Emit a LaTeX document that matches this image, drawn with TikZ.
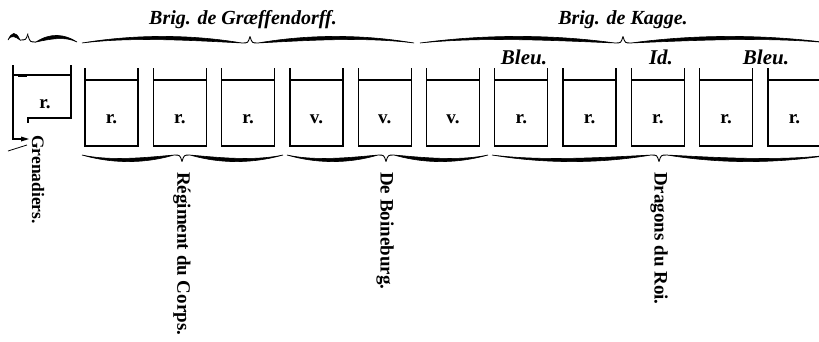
\documentclass[tikz,border=0pt]{standalone}
\usepackage{fontspec}
\setmainfont{Liberation Serif}
\usetikzlibrary{
  calc,
  positioning,
}
\newcommand{\halfbrace}[4]{%
  \pgfmathsetmacro{\hbk}{sign((#2)-(#1))}%
  \pgfmathsetmacro{\hbn}{(#2)-8*\hbk}%
  \pgfmathsetmacro{\hbd}{\hbn-(#1)}%
  \filldraw[line width=0.6pt] (#1,#3)
    .. controls ({(#1)+0.3*\hbd},{(#3)+8*(#4)}) and ({(#1)+0.65*\hbd},{(#3)+9.5*(#4)}) .. (\hbn,#3)
    .. controls ({(#1)+0.65*\hbd},{(#3)+3*(#4)}) and ({(#1)+0.3*\hbd},{(#3)+6*(#4)}) .. cycle;
  \draw[line width=0.9pt] (\hbn,#3) .. controls ({(#2)-2*\hbk},#3) .. (#2,{(#3)+6.5*(#4)});
}

\begin{document}
\begin{tikzpicture}[x=1pt, y=-1pt,
    wall/.style={line width=1.3pt},
    cell/.style={inner sep=0pt, font=\fontsize{19}{21}\selectfont\bfseries},
    unit/.style={cell, draw, line width=1.3pt, minimum width=53pt, minimum height=66pt,
                 outer sep=0pt, text height=20pt, text depth=0pt, node distance=15.3pt},
    brig/.style={inner sep=0pt, font=\fontsize{20}{24}\selectfont\bfseries\itshape},
    tag/.style={inner sep=0pt, font=\fontsize{21}{24}\selectfont\bfseries\itshape},
    corps/.style={rotate=-90, anchor=west, inner sep=0pt,
                  font=\fontsize{19}{22}\selectfont\bfseries}]
  \useasboundingbox (0,0) rectangle (819,341);
  \clip (0,0) rectangle (819,341);
  \node [brig] (graef) at (243,20) {Brig. de Græffendorff.};
  \node [brig] (kagge) at (623,20) {Brig. de Kagge.};
  \halfbrace{8}{28}{40}{-1}
  \halfbrace{77}{28}{42}{-1}
  \halfbrace{82}{250}{43}{-1}
  \halfbrace{414}{250}{43}{-1}
  \halfbrace{420}{623}{43}{-1}
  \halfbrace{830}{623}{43}{-1}
  \draw [wall] (13,65) -- (13,139) -- (24,139);
  \fill (21,136.5) -- (29,139) -- (21,141.5) -- cycle;
  \draw [wall] (13,75) -- (71,75);
  \draw [line width=3pt] (18,75) -- (27,75);
  \draw [wall] (71,65) -- (71,118) -- (28,118) -- (28,123);
  \draw [line width=0.8pt] (8,151) -- (27,145);
  \node [cell] (gren r) at (45,104) {r.};
  \node [unit] (u1) at (111.5,113) {r.};
  \node [unit, right=of u1] (u2) {r.};
  \node [unit, right=of u2] (u3) {r.};
  \node [unit, right=of u3] (u4) {v.};
  \node [unit, right=of u4] (u5) {v.};
  \node [unit, right=of u5] (u6) {v.};
  \node [unit, right=of u6] (u7) {r.};
  \node [unit, right=of u7] (u8) {r.};
  \node [unit, right=of u8] (u9) {r.};
  \node [unit, right=of u9] (u10) {r.};
  \node [unit, right=of u10] (u11) {r.};
  \foreach \i in {1,...,11}
    \draw [wall] (u\i.north west) -- ++(0,-12) (u\i.north east) -- ++(0,-12);
  \node [tag] (bleu a) at (524,57) {Bleu.};
  \node [tag] (idem) at (661,57) {Id.};
  \node [tag] (bleu b) at (766,57) {Bleu.};
  \halfbrace{82}{182}{155}{1}
  \halfbrace{283}{182}{155}{1}
  \halfbrace{287}{386}{155}{1}
  \halfbrace{488}{386}{155}{1}
  \halfbrace{492}{659}{155}{1}
  \halfbrace{830}{659}{155}{1}
  \node [corps, font=\fontsize{17.5}{20}\selectfont\bfseries] (gren) at (38,135) {Grenadiers.};
  \node [corps] (corps) at (182,172) {Régiment du Corps.};
  \node [corps] (boin) at (385,172) {De Boineburg.};
  \node [corps] (drag) at (659,172) {Dragons du Roi.};
\end{tikzpicture}
\end{document}
